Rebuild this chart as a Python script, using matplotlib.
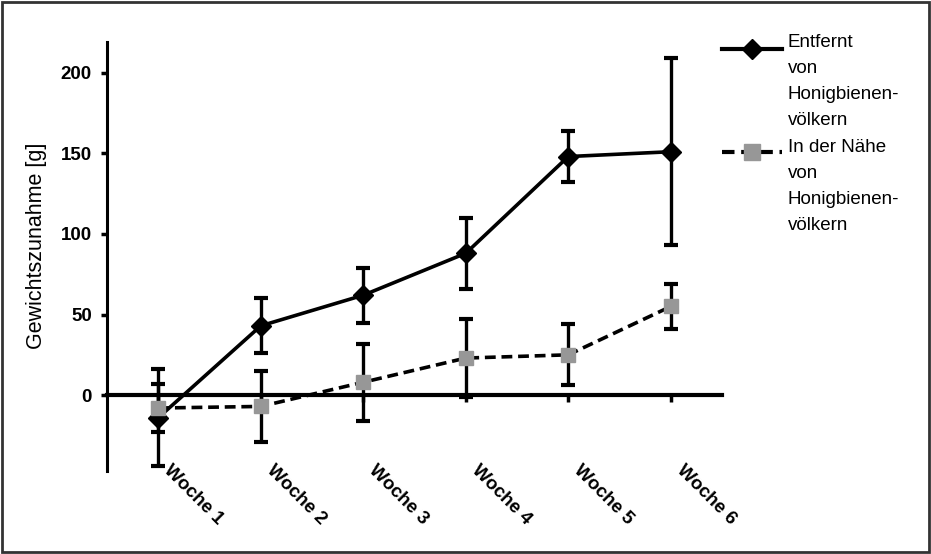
import matplotlib
matplotlib.use("Agg")
import matplotlib.pyplot as plt
from matplotlib.lines import Line2D
from matplotlib.patches import Rectangle
from matplotlib.transforms import ScaledTranslation

# data
weeks = ["Woche 1", "Woche 2", "Woche 3", "Woche 4", "Woche 5", "Woche 6"]
far_mean = [-14, 43, 62, 88, 148, 151]
far_err = [30, 17, 17, 22, 16, 58]
near_mean = [-8, -7, 8, 23, 25, 55]
near_err = [15, 22, 24, 24, 19, 14]
series_labels = ["Entfernt\nvon\nHonigbienen-\nvölkern",
                 "In der Nähe\nvon\nHonigbienen-\nvölkern"]
yticks = [0, 50, 100, 150, 200]

GRAY = "#979797"

plt.rcParams['font.family'] = ['Liberation Sans', 'DejaVu Sans']

fig = plt.figure(figsize=(9.31, 5.54), dpi=100)
ax = fig.add_axes([0.115, 0.150, 0.6605, 0.774])

x = list(range(1, len(weeks) + 1))

ax.errorbar(x, far_mean, yerr=far_err, color='black', lw=2.6,
            marker='D', ms=10.5, ecolor='black', elinewidth=2.4,
            capsize=4.7, capthick=3, zorder=3)
ax.errorbar(x, near_mean, yerr=near_err, color='black', lw=2.6,
            ls=(0, (3, 1.6)), marker='s', ms=10.5, mfc=GRAY, mec=GRAY,
            ecolor='black', elinewidth=2.4, capsize=4.7, capthick=3,
            zorder=4)

ax.set_xlim(0.5, 6.5)
ax.set_ylim(-47, 219)

for s in ['top', 'right']:
    ax.spines[s].set_visible(False)
ax.spines['bottom'].set_position(('data', 0))
ax.spines['bottom'].set_linewidth(3)
ax.spines['left'].set_linewidth(2.2)

ax.set_yticks(yticks)
ax.set_yticklabels([str(v) for v in yticks], fontsize=13.5, fontweight='bold')
ax.tick_params(axis='y', direction='out', length=4, width=2.5, pad=7)

ax.set_xticks(x)
ax.set_xticklabels(weeks, fontsize=13.5, fontweight='bold', rotation=-45,
                   ha='left', va='top', rotation_mode='anchor')
ax.tick_params(axis='x', direction='out', length=5, width=2.5, pad=0)
shift = ScaledTranslation(0.14, -0.60, fig.dpi_scale_trans)
for lab in ax.get_xticklabels():
    lab.set_transform(lab.get_transform() + shift)

ax.set_ylabel("Gewichtszunahme [g]", fontsize=15.5)
ax.yaxis.set_label_coords(-0.098, 0.524)

# legend drawn by hand so the handle sits on the first text line
leg_y = [0.985, 0.743]
text_y = [1.0186, 0.774]
styles = [dict(ls='-', marker='D', ms=10.5, mfc='black', mec='black'),
          dict(ls=(0, (3, 1.6)), marker='s', ms=12, mfc=GRAY, mec=GRAY)]
for lab, hy, ty, st in zip(series_labels, leg_y, text_y, styles):
    ax.add_line(Line2D([1.0, 1.098], [hy, hy], transform=ax.transAxes,
                       color='black', lw=3, ls=st['ls'], clip_on=False))
    ax.add_line(Line2D([1.049], [hy], transform=ax.transAxes,
                       marker=st['marker'], ms=st['ms'], mfc=st['mfc'],
                       mec=st['mec'], ls='none', clip_on=False))
    ax.text(1.107, ty, lab, transform=ax.transAxes, fontsize=13.5,
            ha='left', va='top', linespacing=1.68)

fig.add_artist(Rectangle((0.002, 0.004), 0.996, 0.992,
                         transform=fig.transFigure, fill=False,
                         lw=2, ec='#333333'))

fig.savefig("out.png", dpi=100)
